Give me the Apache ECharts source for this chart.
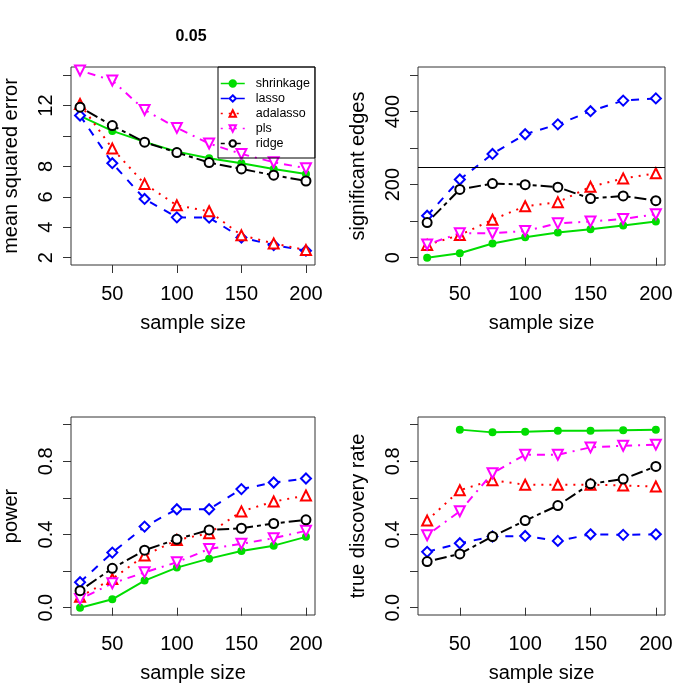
<!DOCTYPE html>
<html>
<head>
<meta charset="utf-8">
<script src="https://cdn.jsdelivr.net/npm/echarts@6/dist/echarts.min.js"></script>
<style>
    html, body { margin: 0; padding: 0; background: #fff; }
    #main { width: 700px; height: 700px; }
</style>
</head>
<body>
<div id="main"></div>
<script>
// sample sizes on the x axis
var sampleSize = [25, 50, 75, 100, 125, 150, 175, 200];
var methods = ['shrinkage', 'lasso', 'adalasso', 'pls', 'ridge'];

// panel 1: mean squared error
var mseShrinkage = [11.32, 10.33, 9.61, 8.97, 8.54, 8.21, 7.83, 7.50];
var mseLasso     = [11.34, 8.21, 5.86, 4.65, 4.63, 3.32, 2.83, 2.46];
var mseAdalasso  = [12.10, 9.17, 6.85, 5.44, 5.05, 3.47, 2.94, 2.50];
var msePls       = [14.30, 13.64, 11.71, 10.53, 9.50, 8.82, 8.27, 7.88];
var mseRidge     = [11.89, 10.68, 9.59, 8.91, 8.25, 7.83, 7.42, 7.04];

// panel 2: significant edges
var edgesShrinkage = [0, 12, 39, 56, 69, 78, 88, 99];
var edgesLasso     = [115, 214, 284, 338, 365, 401, 430, 436];
var edgesAdalasso  = [35, 62, 104, 141, 152, 194, 217, 231];
var edgesPls       = [36, 67, 67, 73, 94, 99, 106, 119];
var edgesRidge     = [96, 187, 203, 200, 193, 162, 169, 156];
var edgesLine = 247;

// panel 3: power
var powerShrinkage = [0.000, 0.046, 0.148, 0.219, 0.268, 0.310, 0.339, 0.387];
var powerLasso     = [0.139, 0.301, 0.443, 0.538, 0.538, 0.648, 0.684, 0.706];
var powerAdalasso  = [0.060, 0.157, 0.285, 0.370, 0.407, 0.526, 0.580, 0.613];
var powerPls       = [0.047, 0.133, 0.193, 0.248, 0.321, 0.349, 0.380, 0.420];
var powerRidge     = [0.093, 0.215, 0.314, 0.374, 0.425, 0.434, 0.460, 0.480];

// panel 4: true discovery rate (shrinkage has no value at 25)
var tdrShrinkage = [null, 0.973, 0.958, 0.962, 0.967, 0.967, 0.969, 0.973];
var tdrLasso     = [0.305, 0.352, 0.389, 0.392, 0.365, 0.401, 0.398, 0.401];
var tdrAdalasso  = [0.476, 0.642, 0.697, 0.672, 0.672, 0.672, 0.668, 0.662];
var tdrPls       = [0.396, 0.527, 0.735, 0.836, 0.836, 0.876, 0.885, 0.891];
var tdrRidge     = [0.252, 0.294, 0.389, 0.476, 0.558, 0.677, 0.703, 0.772];

// tick values
var xTicks = [50, 100, 150, 200];
var mseTicks = [2, 4, 6, 8, 10, 12, 14];
var mseLabels = [2, 4, 6, 8, 12];
var edgesTicks = [0, 100, 200, 300, 400, 500];
var edgesLabels = [0, 200, 400];
var rateTicks = [0, 0.2, 0.4, 0.6, 0.8, 1.0];
var rateLabels = [0, 0.4, 0.8];

var FONT = 'Liberation Sans, Arial, sans-serif';

// look of each method (R style pch / lty)
var styles = {
    shrinkage: { color: '#00dd00', symbol: 'circle', size: 6, rotate: 0, dash: 'solid', filled: true },
    lasso:     { color: '#0000ff', symbol: 'diamond', size: 10, rotate: 0, dash: [8, 8], filled: false },
    adalasso:  { color: '#ff0000', symbol: 'triangle', size: 10, rotate: 0, dash: [2, 6], filled: false },
    pls:       { color: '#ff00ff', symbol: 'triangle', size: 10, rotate: 180, dash: [2, 6, 8, 6], filled: false },
    ridge:     { color: '#000000', symbol: 'circle', size: 9, rotate: 0, dash: [4, 4, 12, 4], filled: false }
};

var grids = [
    { left: 68, top: 67, width: 247, height: 198 },
    { left: 418, top: 67, width: 247, height: 198 },
    { left: 68, top: 417, width: 247, height: 198 },
    { left: 418, top: 417, width: 247, height: 198 }
];
grids.forEach(function (g) {
    g.show = true;
    g.borderColor = '#333';
    g.borderWidth = 1;
    g.containLabel = false;
});

function makeXAxis(idx) {
    return {
        type: 'value', gridIndex: idx, min: 18, max: 207,
        name: 'sample size', nameLocation: 'middle', nameGap: 48,
        nameTextStyle: { fontSize: 20, color: '#000', fontFamily: FONT },
        axisLine: { show: false },
        axisTick: { show: true, length: 8, lineStyle: { color: '#333' }, customValues: xTicks },
        axisLabel: { fontSize: 20, color: '#000', fontFamily: FONT, margin: 19, customValues: xTicks },
        splitLine: { show: false }
    };
}

function makeYAxis(idx, name, min, max, ticks, labels, fmt, gap) {
    return {
        type: 'value', gridIndex: idx, min: min, max: max,
        name: name, nameLocation: 'middle', nameGap: gap, nameRotate: 90,
        nameTextStyle: { fontSize: 20, color: '#000', fontFamily: FONT },
        axisLine: { show: false },
        axisTick: { show: true, length: 8, lineStyle: { color: '#333' }, customValues: ticks },
        axisLabel: { fontSize: 20, color: '#000', fontFamily: FONT, margin: 15, rotate: 90,
            customValues: labels, formatter: fmt },
        splitLine: { show: false }
    };
}

function makeSeries(name, idx, values) {
    var s = styles[name];
    var pts = [];
    for (var i = 0; i < sampleSize.length; i++) {
        if (values[i] !== null) pts.push([sampleSize[i], values[i]]);
    }
    return {
        name: name, type: 'line', xAxisIndex: idx, yAxisIndex: idx,
        data: pts, symbol: s.symbol, symbolSize: s.size, symbolRotate: s.rotate,
        showAllSymbol: true,
        lineStyle: { color: s.color, width: 2, type: s.dash },
        itemStyle: { color: s.filled ? s.color : '#fff', borderColor: s.color, borderWidth: 2 },
        emphasis: { disabled: true },
        animation: false
    };
}

var panelData = [
    [mseShrinkage, mseLasso, mseAdalasso, msePls, mseRidge],
    [edgesShrinkage, edgesLasso, edgesAdalasso, edgesPls, edgesRidge],
    [powerShrinkage, powerLasso, powerAdalasso, powerPls, powerRidge],
    [tdrShrinkage, tdrLasso, tdrAdalasso, tdrPls, tdrRidge]
];

var series = [];
panelData.forEach(function (arrs, p) {
    methods.forEach(function (m, k) {
        series.push(makeSeries(m, p, arrs[k]));
    });
});
// horizontal reference line in panel 2
series.push({
    type: 'line', xAxisIndex: 1, yAxisIndex: 1, data: [], silent: true,
    markLine: {
        symbol: 'none', silent: true, label: { show: false },
        lineStyle: { color: '#000', width: 1, type: 'solid' },
        data: [{ yAxis: edgesLine }]
    }
});

var fmtInt = function (v) { return String(v); };
var fmtOne = function (v) { return v.toFixed(1); };

var chart = echarts.init(document.getElementById('main'));
chart.setOption({
    backgroundColor: '#fff',
    animation: false,
    textStyle: { fontFamily: FONT },
    title: {
        text: '0.05', left: 186, top: 24, textAlign: 'center',
        textStyle: { fontSize: 16, fontWeight: 'bold', color: '#000', fontFamily: FONT }
    },
    legend: {
        data: methods, orient: 'vertical', left: 218, top: 67,
        padding: [10, 5, 8, 2], itemWidth: 24, itemHeight: 8, itemGap: 2, itemTextGap: 11,
        borderColor: '#000', borderWidth: 1,
        lineStyle: { width: 1.5 },
        textStyle: { fontSize: 12.5, color: '#000', fontFamily: FONT, padding: [0, 0, 0, 6], width: 55 },
        selectedMode: false
    },
    grid: grids,
    xAxis: [makeXAxis(0), makeXAxis(1), makeXAxis(2), makeXAxis(3)],
    yAxis: [
        makeYAxis(0, 'mean squared error', 1.52, 14.53, mseTicks, mseLabels, fmtInt, 50),
        makeYAxis(1, 'significant edges', -20, 522, edgesTicks, edgesLabels, fmtInt, 50),
        makeYAxis(2, 'power', -0.04, 1.042, rateTicks, rateLabels, fmtOne, 50),
        makeYAxis(3, 'true discovery rate', -0.04, 1.042, rateTicks, rateLabels, fmtOne, 50)
    ],
    series: series
});
</script>
</body>
</html>
